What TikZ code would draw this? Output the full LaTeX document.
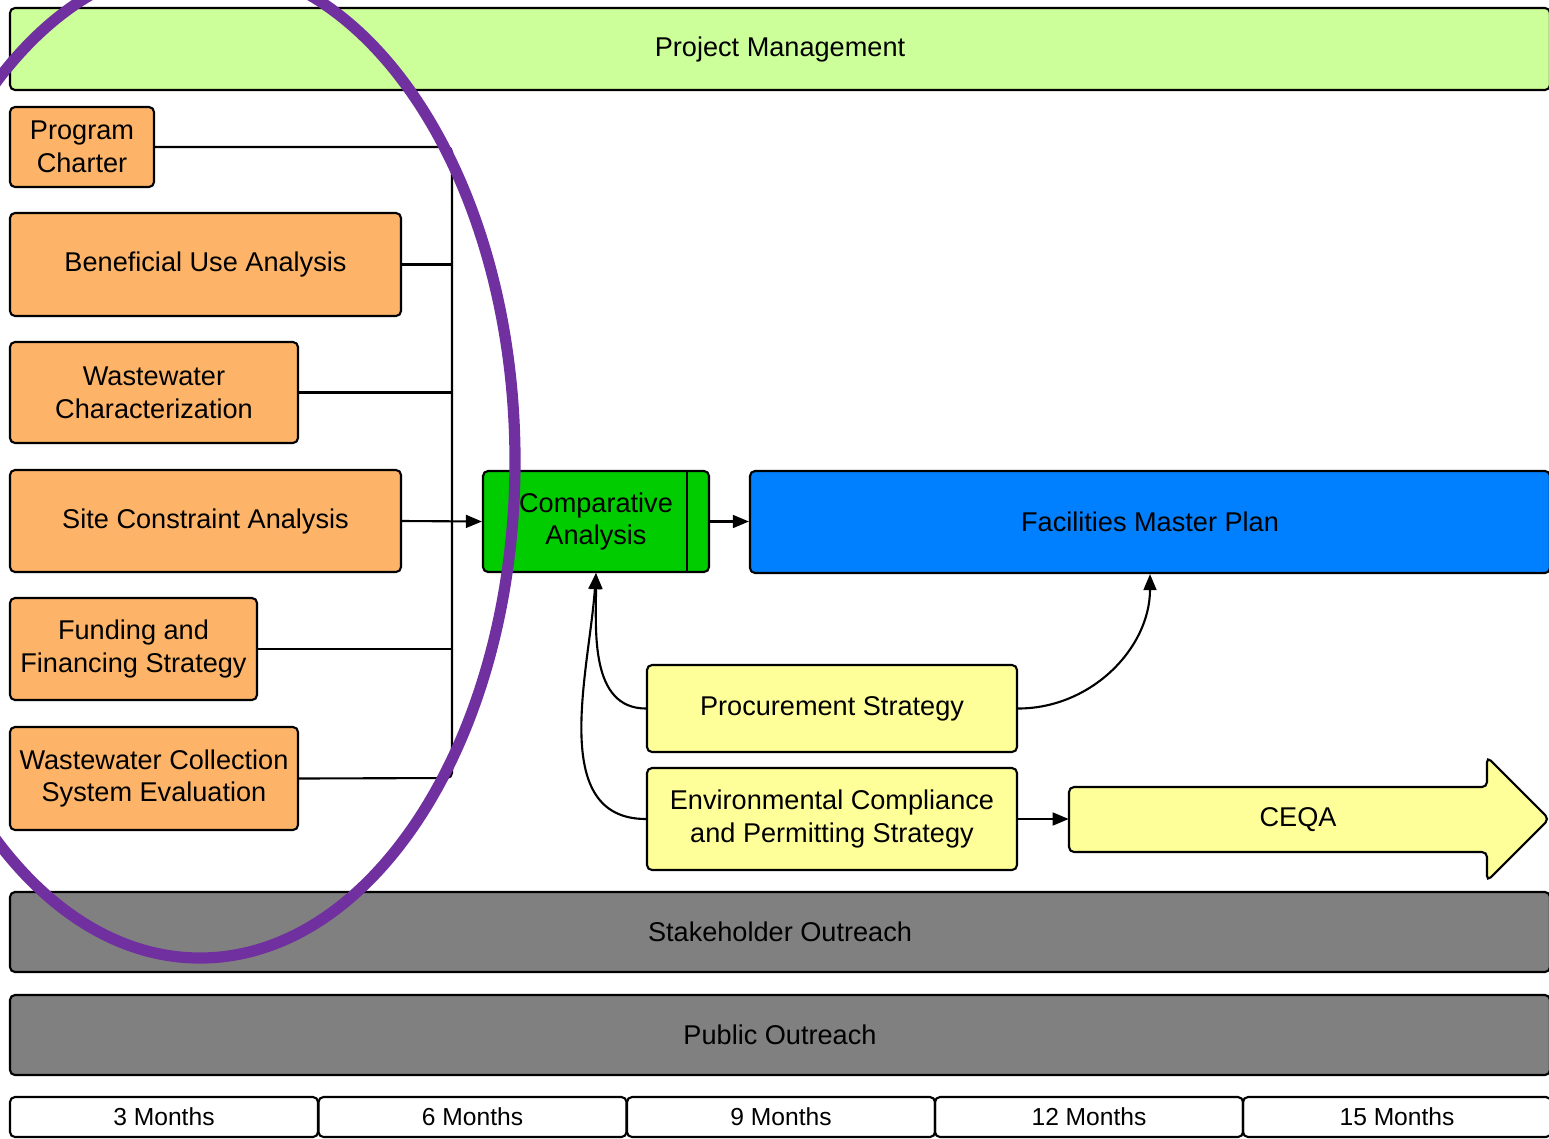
\documentclass[tikz,border=0pt]{standalone}
\usepackage{fontspec}
\setmainfont{Liberation Sans}
\usetikzlibrary{arrows.meta}

\definecolor{pmgreen}{HTML}{CCFF99}
\definecolor{taskorange}{HTML}{FDB468}
\definecolor{compgreen}{HTML}{00CC00}
\definecolor{planblue}{HTML}{0080FF}
\definecolor{stratyellow}{HTML}{FFFF99}
\definecolor{outreachgray}{HTML}{808080}
\definecolor{ringpurple}{HTML}{7030A0}

\begin{document}
\begin{tikzpicture}[x=0.25mm, y=-0.25mm,
    every node/.style={font=\fontsize{19.3}{23.4}\selectfont, align=center},
    taskbox/.style={draw, line width=1.5pt, rounded corners=1.25mm, inner sep=0pt},
    monthbox/.style={taskbox, minimum width=77mm, minimum height=10mm, font=\fontsize{17.5}{20}\selectfont},
    link/.style={line width=1.5pt},
    arrowlink/.style={line width=1.5pt, -{Triangle[length=4mm, width=3.2mm]}},
  ]
  \useasboundingbox (0,0) rectangle (1549,1138);

  % bands
  \node[taskbox, fill=pmgreen, minimum width=385mm, minimum height=20.5mm] (pm) at (780,49) {Project Management};
  \node[taskbox, fill=outreachgray, minimum width=385mm, minimum height=20mm] (stake) at (780,932) {Stakeholder Outreach};
  \node[taskbox, fill=outreachgray, minimum width=385mm, minimum height=20mm] (public) at (780,1035) {Public Outreach};

  % first phase studies
  \node[taskbox, fill=taskorange, minimum width=36mm, minimum height=20mm] (charter) at (82,147) {Program\\Charter};
  \node[taskbox, fill=taskorange, minimum width=97.75mm, minimum height=25.75mm] (benefit) at (205.5,264.5) {Beneficial Use Analysis};
  \node[taskbox, fill=taskorange, minimum width=72mm, minimum height=25.25mm] (wwchar) at (154,392.5) {Wastewater\\Characterization};
  \node[taskbox, fill=taskorange, minimum width=97.75mm, minimum height=25.5mm] (site) at (205.5,521) {Site Constraint Analysis};
  \node[taskbox, fill=taskorange, minimum width=61.75mm, minimum height=25.5mm] (funding) at (133.5,649) {Funding and\\Financing Strategy};
  \node[taskbox, fill=taskorange, minimum width=72mm, minimum height=25.75mm] (collect) at (154,778.5) {Wastewater Collection\\System Evaluation};

  \node[taskbox, fill=compgreen, minimum width=56.5mm, minimum height=25.25mm] (comp) at (596,521.5) {Comparative\\Analysis};
  \draw[link] ([xshift=-5.75mm]comp.north east) -- ([xshift=-5.75mm]comp.south east);
  \node[taskbox, fill=planblue, minimum width=200mm, minimum height=25.5mm] (fmp) at (1150,522) {Facilities Master Plan};

  \node[taskbox, fill=stratyellow, minimum width=92.5mm, minimum height=21.75mm] (proc) at (832,708.5) {Procurement Strategy};
  \node[taskbox, fill=stratyellow, minimum width=92.5mm, minimum height=25.5mm] (env) at (832,819) {Environmental Compliance\\and Permitting Strategy};

  \filldraw[fill=stratyellow, line width=1.5pt, rounded corners=1.25mm]
    (1069,787) -- (1487,787) -- (1487,757) -- (1549,819) -- (1487,881) -- (1487,852) -- (1069,852) -- cycle;
  \node[minimum width=114.5mm, minimum height=16.25mm] (ceqa) at (1298,819.5) {CEQA};

  % timeline
  \node[monthbox] (m3) at (164,1117) {3 Months};
  \node[monthbox] (m6) at (472.5,1117) {6 Months};
  \node[monthbox] (m9) at (781,1117) {9 Months};
  \node[monthbox] (m12) at (1089,1117) {12 Months};
  \node[monthbox] (m15) at (1397,1117) {15 Months};

  % connectors
  \coordinate (bustop) at (452,147);
  \coordinate (busbot) at (452,778);
  \draw[link, rounded corners=1.25mm] (charter.east) -- (bustop) -- (busbot) -- (collect.east);
  \draw[link] (benefit.east) -- (benefit.east -| bustop);
  \draw[link] (wwchar.east) -- (wwchar.east -| bustop);
  \draw[link] (funding.east) -- (funding.east -| bustop);
  \draw[arrowlink] (site.east) -- (comp.west);
  \draw[arrowlink] (comp.east) -- (comp.east -| fmp.west);
  \draw[arrowlink] (proc.west) to[out=180, in=-90] (comp.south);
  \draw[arrowlink] (env.west) to[out=180, in=-94] (comp.south);
  \draw[arrowlink] (proc.east) to[out=0, in=-90] (fmp.south);
  \draw[arrowlink] (env.east) -- (env.east -| ceqa.west);

  % highlight
  \draw[ringpurple, line width=2.8mm] (200,461) ellipse [x radius=78.75mm, y radius=124.25mm];
\end{tikzpicture}
\end{document}
